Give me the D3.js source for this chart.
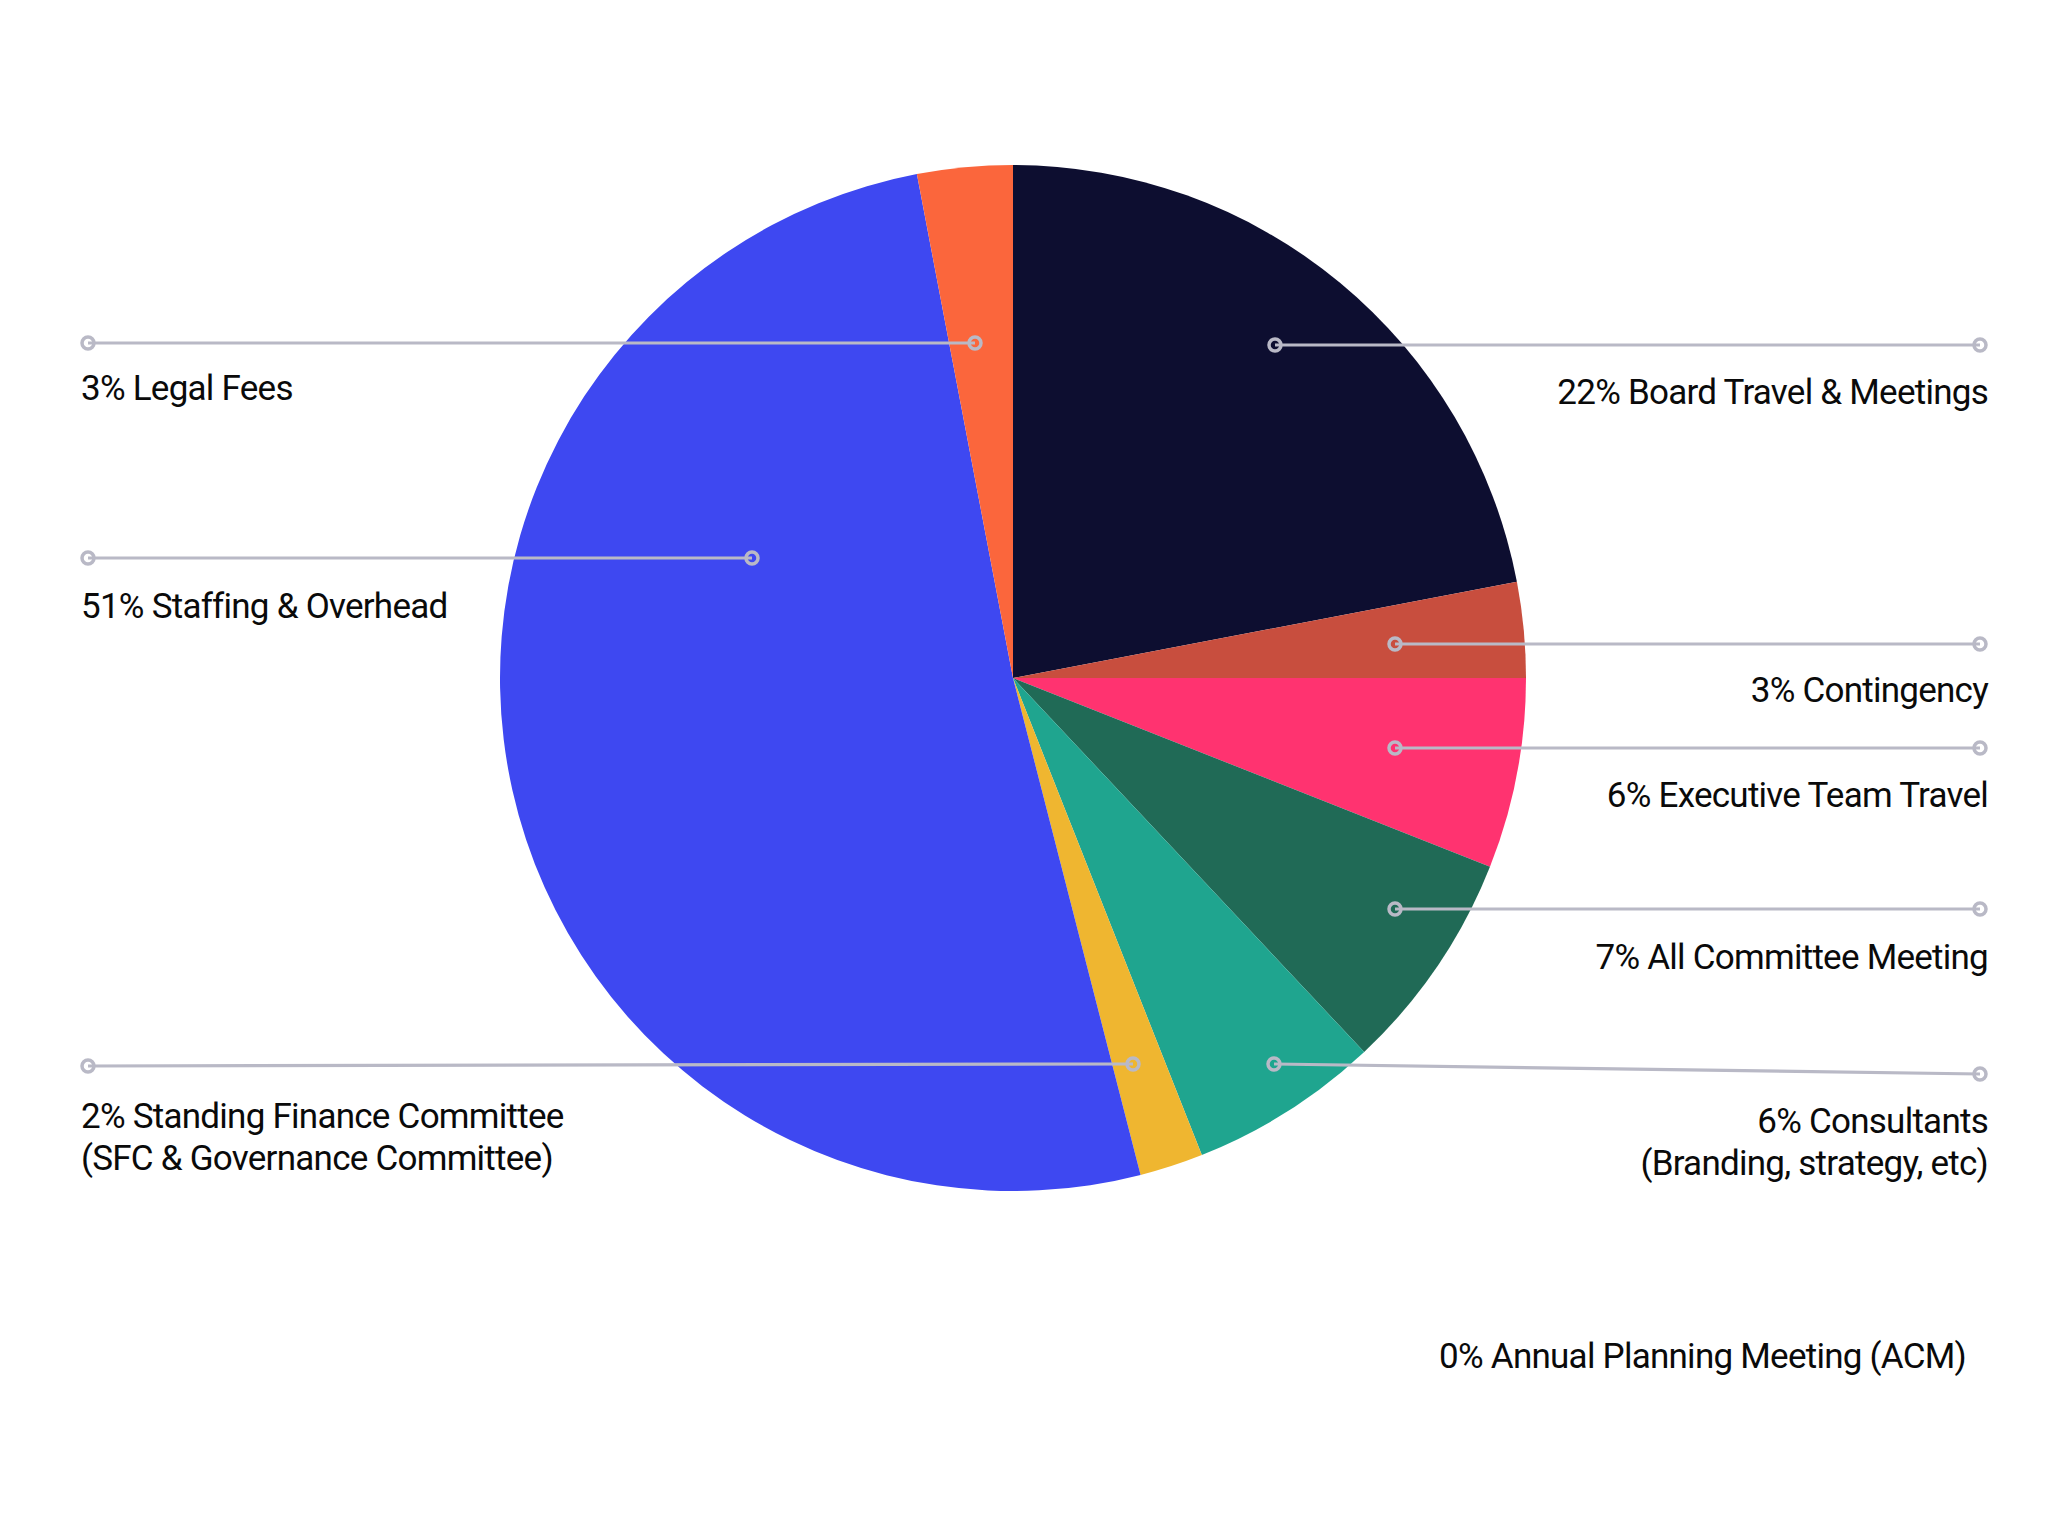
<!DOCTYPE html>
<html>
<head>
<meta charset="utf-8">
<script src="https://cdn.jsdelivr.net/npm/d3@7"></script>
<style>
  html, body { margin: 0; padding: 0; background: #ffffff; }
  svg { display: block; }
  text { font-family: Roboto, "Noto Sans", sans-serif; fill: #0a0a0a; }
</style>
</head>
<body>
<script>
// ---- data ----
const categories = [
  "Board Travel & Meetings",
  "Contingency",
  "Executive Team Travel",
  "All Committee Meeting",
  "Consultants",
  "Standing Finance Committee",
  "Annual Planning Meeting (ACM)",
  "Staffing & Overhead",
  "Legal Fees"
];
const values = [22, 3, 6, 7, 6, 2, 0, 51, 3];
const subtitles = ["", "", "", "", "(Branding, strategy, etc)", "(SFC & Governance Committee)", "", "", ""];
const colors = ["#0d0e30", "#c84e3e", "#ff3370", "#206a56", "#1fa58f", "#efb630", "#dddddd", "#3e48f1", "#fb663c"];

// ---- layout (annotation placement, not data) ----
const W = 2048, H = 1536;
const cx = 1013, cy = 678, R = 513;
// side, inner anchor [x,y], outer anchor [x,y], text baseline y
const labelLayout = [
  { side: "right", inner: [1275, 345],  outer: [1980, 345],  ty: 404 },
  { side: "right", inner: [1395, 644],  outer: [1980, 644],  ty: 702 },
  { side: "right", inner: [1395, 748],  outer: [1980, 748],  ty: 807 },
  { side: "right", inner: [1395, 909],  outer: [1980, 909],  ty: 969 },
  { side: "right", inner: [1274, 1064], outer: [1980, 1074], ty: 1133 },
  { side: "left",  inner: [1133, 1064], outer: [88, 1066],   ty: 1128 },
  { side: "right", inner: null,          outer: null,          ty: 1368, tx: 1966 },
  { side: "left",  inner: [752, 558],   outer: [88, 558],    ty: 618 },
  { side: "left",  inner: [975, 343],   outer: [88, 343],    ty: 400 }
];
const lineColor = "#b9b9c6";
const fontSize = 35, lineGap = 42;

const svg = d3.select("body").append("svg").attr("width", W).attr("height", H);

const pie = d3.pie().sort(null).value(d => d).startAngle(0).endAngle(2 * Math.PI);
const arc = d3.arc().innerRadius(0).outerRadius(R);
const arcs = pie(values);

const g = svg.append("g").attr("transform", `translate(${cx},${cy})`);
g.selectAll("path.slice")
  .data(arcs.filter(d => d.value > 0))
  .join("path")
  .attr("class", "slice")
  .attr("d", arc)
  .attr("fill", d => colors[d.index]);

// leader lines
const ann = svg.append("g");
categories.forEach((name, i) => {
  const L = labelLayout[i];
  if (L.inner) {
    ann.append("line")
      .attr("x1", L.inner[0]).attr("y1", L.inner[1])
      .attr("x2", L.outer[0]).attr("y2", L.outer[1])
      .attr("stroke", lineColor).attr("stroke-width", 3.2);
    [L.inner, L.outer].forEach(p => {
      ann.append("circle")
        .attr("cx", p[0]).attr("cy", p[1]).attr("r", 6)
        .attr("fill", "none").attr("stroke", lineColor).attr("stroke-width", 3.5);
    });
  }
  const x = L.tx !== undefined ? L.tx : (L.side === "left" ? 81 : 1988);
  const lines = [`${values[i]}% ${name}`];
  if (subtitles[i]) lines.push(subtitles[i]);
  const t = ann.append("text")
    .attr("text-anchor", L.side === "left" ? "start" : "end")
    .attr("font-size", fontSize)
    .attr("letter-spacing", "-0.75px");
  lines.forEach((s, k) => {
    t.append("tspan").attr("x", x).attr("y", L.ty + k * lineGap).text(s);
  });
});
</script>
</body>
</html>
